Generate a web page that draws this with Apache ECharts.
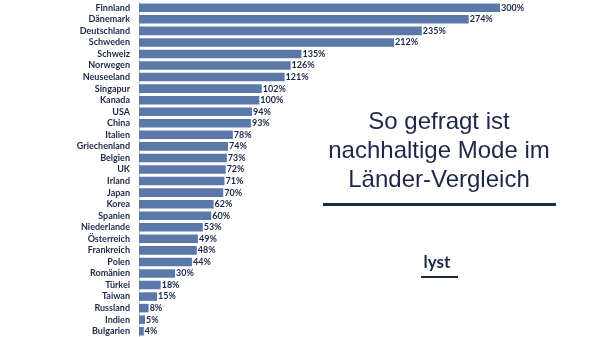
<!DOCTYPE html>
<html><head><meta charset="utf-8">
<script src="https://cdn.jsdelivr.net/npm/echarts@6/dist/echarts.min.js"></script>
<style>html,body{margin:0;padding:0;background:#fff}#c{width:600px;height:337px}</style>
</head><body><div id="c"></div>
<script>
const categories = ["Finnland","Dänemark","Deutschland","Schweden","Schweiz","Norwegen","Neuseeland","Singapur","Kanada","USA","China","Italien","Griechenland","Belgien","UK","Irland","Japan","Korea","Spanien","Niederlande","Österreich","Frankreich","Polen","Romänien","Türkei","Taiwan","Russland","Indien","Bulgarien"];
const values = [300,274,235,212,135,126,121,102,100,94,93,78,74,73,72,71,70,62,60,53,49,48,44,30,18,15,8,5,4];
const titleLines = ["So gefragt ist","nachhaltige Mode im","Länder-Vergleich"];
const brand = "lyst";

const navy = '#1d2747';
const chart = echarts.init(document.getElementById('c'), null, {renderer:'canvas'});
chart.setOption({
  animation:false,
  grid:{left:139, right:100, top:2, bottom:0, containLabel:false},
  xAxis:{type:'value', min:0, max:300, show:false},
  yAxis:{type:'category', data:categories, inverse:true,
    axisLine:{show:true, lineStyle:{color:'#c9ccd3', width:1}},
    axisTick:{show:false},
    axisLabel:{interval:0, margin:9, color:navy, fontFamily:'Lato', fontWeight:'bold', fontSize:9}
  },
  series:[{type:'bar', data:values, barWidth:'74%',
    itemStyle:{color:'#5a78a9'},
    label:{show:true, position:'right', distance:1, formatter:'{c}%', color:navy, fontFamily:'Lato', fontWeight:'bold', fontSize:9}
  }],
  graphic:[
    {type:'text', style:{text:titleLines.join('\n'), x:439, y:108, textAlign:'center', textVerticalAlign:'top', font:'24px "Liberation Sans"', lineHeight:29, fill:navy}},
    {type:'rect', shape:{x:323, y:203, width:233, height:3}, style:{fill:navy}},
    {type:'text', style:{text:brand, x:437, y:254, textAlign:'center', textVerticalAlign:'top', font:'bold 17px Lato', fill:navy}},
    {type:'rect', shape:{x:421, y:276, width:37, height:2}, style:{fill:navy}}
  ]
});
</script></body></html>
